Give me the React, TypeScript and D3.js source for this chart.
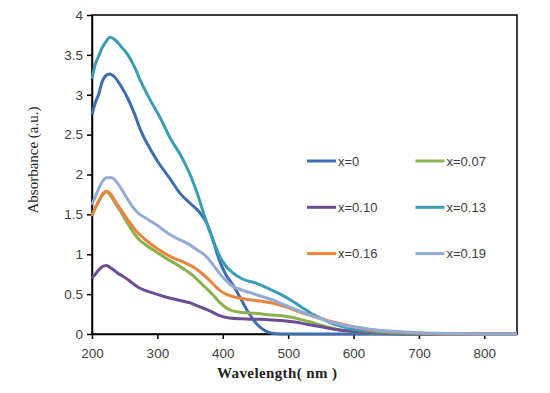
import React, { useEffect, useRef } from 'react';
import * as d3 from 'd3';

// wavelength (nm) / absorbance pairs
const wl0 = [200, 205, 210, 215, 220, 227, 235, 245, 255, 265, 275, 285, 300, 320, 335, 350, 365, 375, 385, 395, 405, 415, 425, 435, 445, 455, 465, 475, 490, 850];
const abs0 = [2.75, 2.9, 3.0, 3.15, 3.23, 3.26, 3.22, 3.1, 2.95, 2.76, 2.54, 2.38, 2.17, 1.94, 1.76, 1.64, 1.52, 1.4, 1.18, 0.92, 0.74, 0.62, 0.48, 0.33, 0.2, 0.1, 0.04, 0.01, 0, 0];

const wl007 = [200, 205, 210, 215, 222, 228, 235, 245, 255, 270, 285, 300, 315, 330, 345, 355, 365, 375, 385, 395, 405, 415, 430, 450, 470, 490, 505, 520, 535, 550, 565, 580, 600, 630, 680, 850];
const abs007 = [1.48, 1.58, 1.66, 1.73, 1.78, 1.74, 1.65, 1.52, 1.38, 1.2, 1.1, 1.02, 0.94, 0.87, 0.79, 0.73, 0.65, 0.57, 0.49, 0.4, 0.33, 0.29, 0.27, 0.26, 0.24, 0.23, 0.21, 0.18, 0.15, 0.11, 0.08, 0.05, 0.03, 0.01, 0, 0];

const wl010 = [200, 205, 210, 215, 222, 230, 240, 250, 260, 270, 280, 295, 310, 330, 350, 365, 380, 395, 410, 430, 450, 470, 490, 510, 530, 550, 570, 590, 610, 640, 680, 850];
const abs010 = [0.7, 0.75, 0.8, 0.84, 0.86, 0.82, 0.76, 0.71, 0.65, 0.59, 0.55, 0.51, 0.47, 0.43, 0.39, 0.34, 0.29, 0.23, 0.2, 0.19, 0.185, 0.18, 0.17, 0.15, 0.12, 0.09, 0.06, 0.04, 0.025, 0.01, 0, 0];

const wl013 = [200, 205, 210, 215, 220, 228, 235, 245, 255, 265, 275, 290, 305, 320, 335, 350, 362, 372, 385, 395, 405, 415, 430, 450, 470, 490, 505, 520, 535, 550, 565, 580, 600, 625, 650, 700, 750, 850];
const abs013 = [3.2, 3.38, 3.48, 3.58, 3.65, 3.72, 3.69, 3.6, 3.5, 3.35, 3.16, 2.92, 2.7, 2.45, 2.25, 2.0, 1.74, 1.48, 1.18, 0.98, 0.85, 0.77, 0.69, 0.64, 0.57, 0.49, 0.42, 0.34, 0.26, 0.2, 0.14, 0.1, 0.06, 0.03, 0.015, 0.005, 0, 0];

const wl016 = [200, 205, 210, 215, 222, 228, 235, 245, 255, 270, 285, 300, 320, 340, 355, 365, 375, 385, 395, 405, 420, 440, 460, 480, 500, 520, 540, 560, 580, 600, 625, 650, 700, 750, 850];
const abs016 = [1.48, 1.58, 1.66, 1.74, 1.79, 1.76, 1.67, 1.55, 1.43, 1.27, 1.16, 1.07, 0.97, 0.9, 0.84, 0.78, 0.71, 0.63, 0.55, 0.5, 0.46, 0.43, 0.41, 0.38, 0.33, 0.27, 0.22, 0.17, 0.13, 0.09, 0.05, 0.03, 0.01, 0, 0];

const wl019 = [200, 205, 210, 215, 222, 230, 240, 250, 260, 270, 285, 300, 315, 330, 345, 360, 375, 385, 395, 405, 415, 430, 445, 460, 475, 490, 505, 520, 535, 550, 565, 580, 600, 625, 650, 700, 750, 800, 850];
const abs019 = [1.62, 1.72, 1.82, 1.9, 1.96, 1.96, 1.88, 1.75, 1.62, 1.52, 1.44, 1.36, 1.27, 1.2, 1.14, 1.06, 0.97, 0.87, 0.76, 0.67, 0.6, 0.55, 0.51, 0.47, 0.43, 0.38, 0.33, 0.28, 0.23, 0.19, 0.15, 0.12, 0.09, 0.06, 0.04, 0.015, 0.005, 0, 0];

const seriesNames = ['x=0', 'x=0.07', 'x=0.10', 'x=0.13', 'x=0.16', 'x=0.19'];
const seriesX = [wl0, wl007, wl010, wl013, wl016, wl019];
const seriesY = [abs0, abs007, abs010, abs013, abs016, abs019];
const colors = ['#3F6DB0', '#8CB04C', '#6B4D94', '#3A9DB3', '#E8863D', '#93ACD5'];

const xTicks = [200, 300, 400, 500, 600, 700, 800];
const yTicks = [0, 0.5, 1, 1.5, 2, 2.5, 3, 3.5, 4];

export default function App() {
  const svgRef = useRef<SVGSVGElement>(null);
  const width = 550;
  const height = 393;

  useEffect(() => {
    if (!svgRef.current) return;
    const svg = d3.select(svgRef.current);
    svg.selectAll('*').remove();

    const margin = { top: 15, right: 33, bottom: 59, left: 92 };
    const x = d3.scaleLinear().domain([200, 850]).range([margin.left, width - margin.right]);
    const y = d3.scaleLinear().domain([0, 4]).range([height - margin.bottom, margin.top]);

    const tickFont = '"Liberation Sans", Arial, sans-serif';
    const serif = '"Liberation Serif", "Times New Roman", serif';

    // frame
    svg
      .append('rect')
      .attr('x', x(200))
      .attr('y', y(4))
      .attr('width', x(850) - x(200))
      .attr('height', y(0) - y(4))
      .attr('fill', 'none')
      .attr('stroke', '#000')
      .attr('stroke-width', 1.5);

    const xAxis = svg
      .append('g')
      .attr('transform', `translate(0,${y(0)})`)
      .call(d3.axisBottom(x).tickValues(xTicks).tickSize(5).tickSizeOuter(0).tickFormat((d) => String(d)));
    xAxis.select('.domain').attr('stroke', '#000').attr('stroke-width', 1.5);
    xAxis.selectAll('.tick line').attr('stroke', '#000').attr('stroke-width', 1.5);
    xAxis
      .selectAll('.tick text')
      .attr('font-family', tickFont)
      .attr('font-size', 13.5)
      .attr('fill', '#404040')
      .attr('dy', '1.2em');

    const yAxis = svg
      .append('g')
      .attr('transform', `translate(${x(200)},0)`)
      .call(d3.axisLeft(y).tickValues(yTicks).tickSize(5).tickSizeOuter(0).tickFormat((d) => String(d)));
    yAxis.select('.domain').attr('stroke', '#000').attr('stroke-width', 1.5);
    yAxis.selectAll('.tick line').attr('stroke', '#000').attr('stroke-width', 1.5);
    yAxis
      .selectAll('.tick text')
      .attr('font-family', tickFont)
      .attr('font-size', 13.5)
      .attr('fill', '#404040')
      .attr('x', -9);

    const line = d3
      .line<[number, number]>()
      .x((d) => x(d[0]))
      .y((d) => y(d[1]))
      .curve(d3.curveMonotoneX);

    seriesX.forEach((xs, i) => {
      const pts: [number, number][] = xs.map((w, j) => [w, seriesY[i][j]]);
      svg
        .append('path')
        .datum(pts)
        .attr('fill', 'none')
        .attr('stroke', colors[i])
        .attr('stroke-width', 3)
        .attr('stroke-linejoin', 'round')
        .attr('d', line);
    });

    // legend, two columns
    const legend = svg.append('g');
    seriesNames.forEach((name, i) => {
      const col = i % 2;
      const row = Math.floor(i / 2);
      const lx = 307 + col * 108.5;
      const ly = 161 + row * 46.3;
      legend
        .append('line')
        .attr('x1', lx)
        .attr('x2', lx + 29)
        .attr('y1', ly)
        .attr('y2', ly)
        .attr('stroke', colors[i])
        .attr('stroke-width', 3);
      legend
        .append('text')
        .attr('x', lx + 31)
        .attr('y', ly + 4.5)
        .attr('font-family', tickFont)
        .attr('font-size', 13)
        .attr('fill', '#404040')
        .text(name);
    });

    svg
      .append('text')
      .attr('transform', `translate(38,160) rotate(-90)`)
      .attr('text-anchor', 'middle')
      .attr('font-family', serif)
      .attr('font-size', 15)
      .attr('fill', '#222')
      .text('Absorbance (a.u.)');

    svg
      .append('text')
      .attr('x', 277)
      .attr('y', 378)
      .attr('text-anchor', 'middle')
      .attr('font-family', serif)
      .attr('font-weight', 'bold')
      .attr('font-size', 15)
      .attr('fill', '#222')
      .attr('textLength', 120)
      .text('Wavelength( nm )');
  }, []);

  return (
    <svg
      ref={svgRef}
      width={width}
      height={height}
      style={{ position: 'absolute', left: 0, top: 0, background: '#fff' }}
    />
  );
}
